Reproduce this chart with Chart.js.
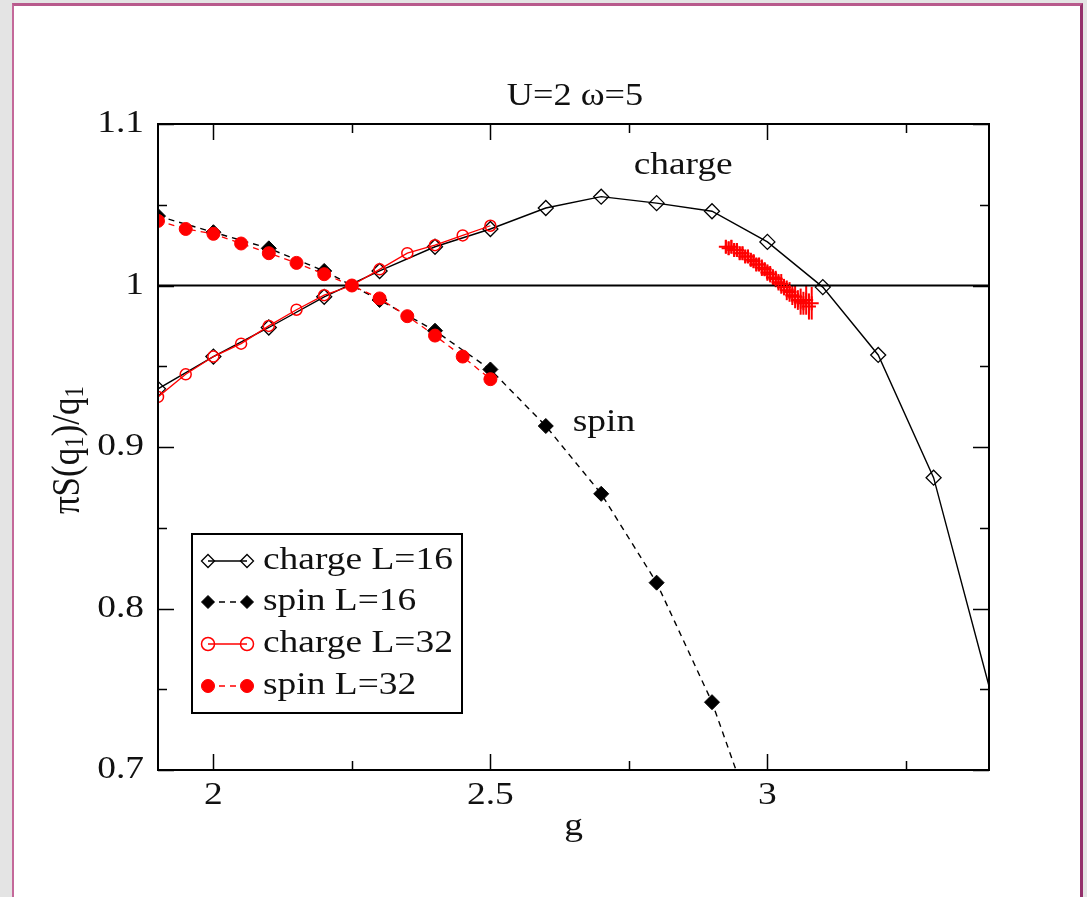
<!DOCTYPE html>
<html>
<head>
<meta charset="utf-8">
<script src="https://cdn.jsdelivr.net/npm/chart.js@4.4.1/dist/chart.umd.min.js"></script>
<style>
  html, body { margin: 0; padding: 0; background: #e4e4e4; overflow: hidden; }
  #frame { position: absolute; left: 12px; top: 3px; width: 1066px; height: 1000px; background: #fff;
           border-left: 2px solid #c4699a; border-top: 3px solid #b85a8c; border-right: 3px solid #94306a; }
  #c { position: absolute; left: 0; top: 0; }
</style>
</head>
<body>
<div id="frame"></div>
<canvas id="c" width="1087" height="897"></canvas>
<script>
// ---- data ----
const chargeL16G = [1.9, 2.0, 2.1, 2.2, 2.3, 2.4, 2.5, 2.6, 2.7, 2.8, 2.9, 3.0, 3.1, 3.2, 3.3, 3.4];
const chargeL16  = [0.936, 0.956, 0.974, 0.993, 1.009, 1.024, 1.035, 1.048, 1.055, 1.051, 1.046, 1.027, 0.999, 0.957, 0.881, 0.752];

const spinL16G = [1.9, 2.0, 2.1, 2.2, 2.3, 2.4, 2.5, 2.6, 2.7, 2.8, 2.9, 3.0];
const spinL16  = [1.043, 1.033, 1.023, 1.009, 0.991, 0.972, 0.948, 0.913, 0.871, 0.816, 0.742, 0.645];

const l32G      = [1.9, 1.95, 2.0, 2.05, 2.1, 2.15, 2.2, 2.25, 2.3, 2.35, 2.4, 2.45, 2.5];
const chargeL32 = [0.931, 0.945, 0.956, 0.964, 0.975, 0.985, 0.994, 1.000, 1.010, 1.020, 1.025, 1.031, 1.037];
const spinL32   = [1.040, 1.035, 1.032, 1.026, 1.020, 1.014, 1.007, 1.000, 0.992, 0.981, 0.969, 0.956, 0.942];

// dense red cluster near g=3 (with error bars)
const clusterG   = [2.925, 2.93, 2.935, 2.94, 2.945, 2.95, 2.955, 2.96, 2.965, 2.97, 2.975, 2.98, 2.985, 2.99, 2.995, 3.0,
                    3.005, 3.01, 3.015, 3.02, 3.025, 3.03, 3.035, 3.04, 3.045, 3.05, 3.055, 3.06, 3.065, 3.07, 3.075, 3.08];
const clusterS   = [1.024, 1.023, 1.024, 1.022, 1.022, 1.020, 1.020, 1.018, 1.018, 1.016, 1.015, 1.013, 1.013, 1.011, 1.010, 1.008,
                    1.007, 1.005, 1.004, 1.002, 1.001, 0.999, 0.997, 0.996, 0.994, 0.993, 0.991, 0.990, 0.989, 0.991, 0.987, 0.989];
const clusterErr = [0.001, 0.001, 0.001, 0.001, 0.001, 0.001, 0.001, 0.001, 0.001, 0.001, 0.001, 0.001, 0.001, 0.002, 0.001, 0.002,
                    0.002, 0.002, 0.002, 0.002, 0.003, 0.002, 0.003, 0.003, 0.003, 0.004, 0.003, 0.005, 0.004, 0.006, 0.005, 0.007];

const refLineG = [1.9, 3.4];
const refLineS = [1, 1];

const xMajor = [2, 2.5, 3];
const xMinor = [2.25, 2.75, 3.25];
const yMajor = [0.7, 0.8, 0.9, 1, 1.1];
const yMinor = [0.75, 0.85, 0.95, 1.05];
const xLabels = ['2', '2.5', '3'];
const yLabels = ['0.7', '0.8', '0.9', '1', '1.1'];

const legendNames = ['charge L=16', 'spin L=16', 'charge L=32', 'spin L=32'];

const pts = (xs, ys) => xs.map((x, i) => ({ x: x, y: ys[i] }));
const SX = 1.17; // the original picture is stretched sideways
const FS = 32;
const FONT = '"Liberation Serif", "Times New Roman", serif';

function txt(ctx, s, x, y, size, align) {
    ctx.save();
    ctx.font = size + 'px ' + FONT;
    ctx.fillStyle = '#111';
    ctx.textBaseline = 'middle';
    ctx.textAlign = align || 'center';
    ctx.translate(x, y);
    ctx.scale(SX, 1);
    ctx.fillText(s, 0, 0);
    ctx.restore();
}

// frame, inward ticks, labels, error bars, legend
const decor = {
    id: 'decor',
    beforeDatasetsDraw(chart) {
        const ctx = chart.ctx;
        const xs = chart.scales.x, ys = chart.scales.y;
        // error bars of the cluster
        ctx.save();
        ctx.strokeStyle = '#ff0000';
        ctx.lineWidth = 2;
        clusterG.forEach((g, i) => {
            const px = xs.getPixelForValue(g);
            ctx.beginPath();
            ctx.moveTo(px, ys.getPixelForValue(clusterS[i] - clusterErr[i]) + 5);
            ctx.lineTo(px, ys.getPixelForValue(clusterS[i] + clusterErr[i]) - 5);
            ctx.stroke();
        });
        ctx.restore();
    },
    afterDraw(chart) {
        const ctx = chart.ctx, a = chart.chartArea;
        const xs = chart.scales.x, ys = chart.scales.y;
        ctx.save();
        ctx.strokeStyle = '#000';
        ctx.lineWidth = 2;
        ctx.strokeRect(a.left, a.top, a.right - a.left, a.bottom - a.top);
        ctx.lineWidth = 1.5;
        const tickX = (vals, len) => vals.forEach(v => {
            const px = Math.round(xs.getPixelForValue(v)) + 0.5;
            ctx.beginPath();
            ctx.moveTo(px, a.bottom); ctx.lineTo(px, a.bottom - len);
            ctx.moveTo(px, a.top); ctx.lineTo(px, a.top + len);
            ctx.stroke();
        });
        const tickY = (vals, len) => vals.forEach(v => {
            const py = Math.round(ys.getPixelForValue(v)) + 0.5;
            ctx.beginPath();
            ctx.moveTo(a.left, py); ctx.lineTo(a.left + len, py);
            ctx.moveTo(a.right, py); ctx.lineTo(a.right - len, py);
            ctx.stroke();
        });
        tickX(xMajor, 16); tickX(xMinor, 9);
        tickY(yMajor, 16); tickY(yMinor, 9);
        ctx.restore();

        xMajor.forEach((v, i) => txt(ctx, xLabels[i], xs.getPixelForValue(v), a.bottom + 26, FS));
        yMajor.forEach((v, i) => txt(ctx, yLabels[i], a.left - 14, ys.getPixelForValue(v), FS, 'right'));

        txt(ctx, 'U=2 \u03c9=5', 575, 97, FS - 1);
        txt(ctx, 'g', xs.getPixelForValue(2.65), a.bottom + 57, FS);
        txt(ctx, 'charge', xs.getPixelForValue(2.848), ys.getPixelForValue(1.074), FS);
        txt(ctx, 'spin', xs.getPixelForValue(2.705), ys.getPixelForValue(0.915), FS);

        // y axis title with subscripts, rotated
        ctx.save();
        ctx.translate(68, 450);
        ctx.rotate(-Math.PI / 2);
        ctx.scale(1, SX);
        ctx.fillStyle = '#111';
        ctx.textBaseline = 'middle';
        ctx.textAlign = 'left';
        const parts = [['\u03c0S(q', 35, 0], ['1', 23, 7], [')/q', 35, 0], ['1', 23, 7]];
        let w = 0;
        parts.forEach(p => { ctx.font = p[1] + 'px ' + FONT; w += ctx.measureText(p[0]).width; });
        let x = -w / 2;
        parts.forEach(p => {
            ctx.font = p[1] + 'px ' + FONT;
            ctx.fillText(p[0], x, p[2]);
            x += ctx.measureText(p[0]).width;
        });
        ctx.restore();

        // legend box
        ctx.save();
        ctx.fillStyle = '#fff';
        ctx.fillRect(192, 534, 270, 179);
        ctx.strokeStyle = '#000';
        ctx.lineWidth = 2;
        ctx.strokeRect(192, 534, 270, 179);
        const rows = [561, 602, 644, 686];
        const sets = chart.data.datasets;
        [1, 2, 3, 4].forEach((di, r) => {
            const ds = sets[di], y = rows[r];
            ctx.save();
            ctx.strokeStyle = ds.borderColor;
            ctx.lineWidth = 1.5;
            ctx.setLineDash(ds.borderDash || []);
            ctx.beginPath();
            ctx.moveTo(208, y); ctx.lineTo(247, y);
            ctx.stroke();
            ctx.setLineDash([]);
            ctx.fillStyle = ds.pointBackgroundColor;
            ctx.strokeStyle = ds.pointBorderColor;
            ctx.lineWidth = ds.pointBorderWidth;
            const o = { pointStyle: ds.pointStyle, radius: 6.5, borderWidth: ds.pointBorderWidth, rotation: 0 };
            Chart.helpers.drawPoint(ctx, o, 208, y);
            Chart.helpers.drawPoint(ctx, o, 247, y);
            ctx.restore();
            txt(ctx, legendNames[r], 263, y, FS, 'left');
        });
        ctx.restore();
    }
};

new Chart(document.getElementById('c'), {
    type: 'scatter',
    data: {
        datasets: [
            { label: 'ref', data: pts(refLineG, refLineS), showLine: true, borderColor: '#000', borderWidth: 2,
              pointRadius: 0, order: 6 },
            { label: legendNames[0], data: pts(chargeL16G, chargeL16), showLine: true, borderColor: '#000', borderWidth: 1.4,
              pointStyle: 'rectRot', pointRadius: chargeL16G.map(g => g > 3.35 ? 0 : 7.5), pointBorderWidth: 1.3,
              pointBackgroundColor: 'rgba(0,0,0,0)', pointBorderColor: '#000', order: 5 },
            { label: legendNames[1], data: pts(spinL16G, spinL16), showLine: true, borderColor: '#000', borderWidth: 1.4,
              borderDash: [6, 5], pointStyle: 'rectRot', pointRadius: 7.5, pointBorderWidth: 1,
              pointBackgroundColor: '#000', pointBorderColor: '#000', order: 4 },
            { label: legendNames[2], data: pts(l32G, chargeL32), showLine: true, borderColor: '#ff0000', borderWidth: 1.3,
              pointStyle: 'circle', pointRadius: 5.5, pointBorderWidth: 1.5,
              pointBackgroundColor: 'rgba(0,0,0,0)', pointBorderColor: '#ff0000', order: 3 },
            { label: legendNames[3], data: pts(l32G, spinL32), showLine: true, borderColor: '#ff0000', borderWidth: 1.3,
              borderDash: [6, 5], pointStyle: 'circle', pointRadius: 6.5, pointBorderWidth: 1,
              pointBackgroundColor: '#ff0000', pointBorderColor: '#ff0000', order: 2 },
            { label: 'cluster', data: pts(clusterG, clusterS), showLine: false,
              pointStyle: 'cross', pointRadius: 7, pointBorderWidth: 2,
              pointBackgroundColor: '#ff0000', pointBorderColor: '#ff0000', order: 1 }
        ]
    },
    options: {
        responsive: false,
        animation: false,
        layout: { padding: { left: 158, right: 98, top: 124, bottom: 127 } },
        plugins: { legend: { display: false }, tooltip: { enabled: false } },
        elements: { line: { tension: 0 } },
        scales: {
            x: { type: 'linear', min: 1.9, max: 3.4, display: false },
            y: { type: 'linear', min: 0.7, max: 1.1, display: false }
        }
    },
    plugins: [decor]
});
</script>
</body>
</html>
